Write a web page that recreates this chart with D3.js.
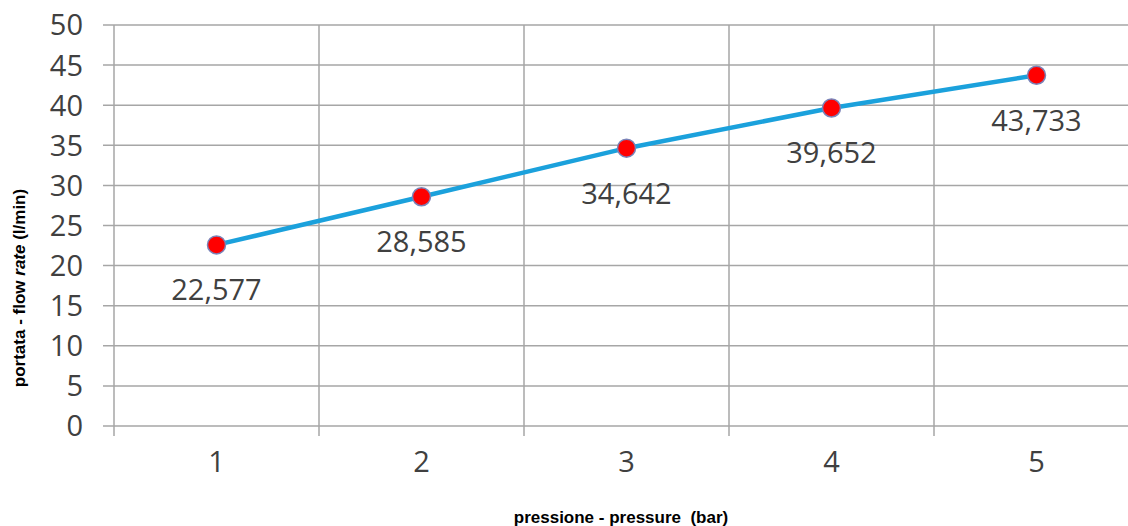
<!DOCTYPE html>
<html>
<head>
<meta charset="utf-8">
<script src="https://cdn.jsdelivr.net/npm/d3@7"></script>
<style>
  body { margin: 0; background: #fff; }
  .tick-label { font-family: "Open Sans", sans-serif; font-size: 29px; fill: #404040; }
  .data-label { font-family: "Open Sans", sans-serif; font-size: 29px; fill: #404040; }
  .axis-title { font-family: "Liberation Sans", Arial, sans-serif; font-weight: bold; fill: #000; }
</style>
</head>
<body>
<div id="chart"></div>
<script>
const pressures = [1, 2, 3, 4, 5];
const flowRates = [22.577, 28.585, 34.642, 39.652, 43.733];
const yTicks = [0, 5, 10, 15, 20, 25, 30, 35, 40, 45, 50];

const width = 1128;
const height = 526;
const margin = { top: 25, right: -11, bottom: 100, left: 114 };

const svg = d3.select('#chart')
  .append('svg')
  .attr('width', width)
  .attr('height', height);

const x = d3.scaleBand()
  .domain(pressures)
  .range([margin.left, width - margin.right]);

const y = d3.scaleLinear()
  .domain([0, 50])
  .range([height - margin.bottom, margin.top]);

const grid = svg.append('g');

// horizontal gridlines, with short stubs left of the plot
grid.selectAll('line.h')
  .data(yTicks)
  .join('line')
  .attr('class', 'h')
  .attr('x1', margin.left - 11)
  .attr('x2', width)
  .attr('y1', d => y(d))
  .attr('y2', d => y(d))
  .attr('stroke', '#a6a6a6')
  .attr('stroke-width', 1.5);

// vertical gridlines on the band edges, with stubs under the axis
const edges = pressures.map(p => x(p)).concat([x(pressures[pressures.length - 1]) + x.bandwidth()]);
grid.selectAll('line.v')
  .data(edges)
  .join('line')
  .attr('class', 'v')
  .attr('x1', d => d)
  .attr('x2', d => d)
  .attr('y1', y(50))
  .attr('y2', y(0) + 10)
  .attr('stroke', '#a6a6a6')
  .attr('stroke-width', 1.5);

// y tick labels
svg.append('g')
  .selectAll('text')
  .data(yTicks)
  .join('text')
  .attr('class', 'tick-label')
  .attr('x', 83)
  .attr('y', d => y(d))
  .attr('dy', '0.36em')
  .attr('text-anchor', 'end')
  .text(d => d);

// x tick labels
svg.append('g')
  .selectAll('text')
  .data(pressures)
  .join('text')
  .attr('class', 'tick-label')
  .attr('x', d => x(d) + x.bandwidth() / 2)
  .attr('y', 462)
  .attr('dy', '0.36em')
  .attr('text-anchor', 'middle')
  .text(d => d);

const points = pressures.map((p, i) => ({ p, v: flowRates[i] }));
const cx = d => x(d.p) + x.bandwidth() / 2;

const line = d3.line()
  .x(cx)
  .y(d => y(d.v));

svg.append('path')
  .datum(points)
  .attr('d', line)
  .attr('fill', 'none')
  .attr('stroke', '#1ba1dc')
  .attr('stroke-width', 4.5)
  .attr('stroke-linejoin', 'round');

svg.append('g')
  .selectAll('circle')
  .data(points)
  .join('circle')
  .attr('cx', cx)
  .attr('cy', d => y(d.v))
  .attr('r', 9)
  .attr('fill', '#ff0000')
  .attr('stroke', '#7a83b8')
  .attr('stroke-width', 1.5);

const fmt = d3.formatLocale({ decimal: ',', thousands: '.', grouping: [3], currency: ['', ''] }).format('.3f');

svg.append('g')
  .selectAll('text')
  .data(points)
  .join('text')
  .attr('class', 'data-label')
  .attr('x', cx)
  .attr('y', d => y(d.v) + 45)
  .attr('dy', '0.36em')
  .attr('text-anchor', 'middle')
  .text(d => fmt(d.v));

// axis titles
svg.append('text')
  .attr('class', 'axis-title')
  .attr('font-size', 17)
  .attr('x', 621)
  .attr('y', 523)
  .attr('text-anchor', 'middle')
  .attr('xml:space', 'preserve')
  .text('pressione - pressure  (bar)');

const yt = svg.append('text')
  .attr('class', 'axis-title')
  .attr('font-size', 17)
  .attr('transform', 'translate(25, 288) rotate(-90)')
  .attr('text-anchor', 'middle');
yt.append('tspan').text('portata - flow ');
yt.append('tspan').attr('font-style', 'italic').text('rate');
yt.append('tspan').text(' (l/min)');
</script>
</body>
</html>
